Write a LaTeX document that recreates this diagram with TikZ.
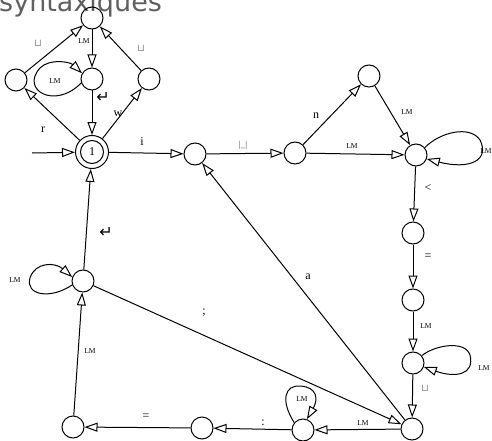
\documentclass[tikz,border=0pt]{standalone}
\usepackage{fontspec}
\setmainfont{Liberation Serif}
\newfontfamily\dejavu{DejaVu Sans}
\usetikzlibrary{arrows.meta}
\definecolor{titlegray}{RGB}{95,95,95}
\definecolor{spgray}{RGB}{140,140,140}
\begin{document}
\begin{tikzpicture}[x=1pt,y=-1pt,
 st/.style={circle,draw,line width=1pt,minimum size=22pt,inner sep=0pt},
 tr/.style={draw,line width=1pt,-{Triangle[open,length=13pt,width=9pt,line width=1pt]}},
 lm/.style={font=\fontsize{7.5}{8}\selectfont,inner sep=1pt},
 lt/.style={font=\fontsize{12}{12}\selectfont,inner sep=1pt},
 sp/.style={font=\dejavu\fontsize{10}{10}\selectfont,text=spgray,inner sep=1pt},
 ret/.style={font=\dejavu\fontsize{16}{16}\selectfont,inner sep=1pt}
]
\useasboundingbox (0,0) rectangle (492,441);
\node[text=titlegray, font=\dejavu\fontsize{27}{27}\selectfont, anchor=base west, inner sep=0pt] (title) at (-1,12) {syntaxiques};

% states
\node[st] (T) at (92,18) {};
\node[st] (L) at (16,80) {};
\node[st] (M) at (92,79) {};
\node[st] (R) at (149,79) {};
\node[circle,draw,line width=1pt,minimum size=33pt,inner sep=0pt] (S) at (92,152) {};
\node[circle,draw,line width=1pt,minimum size=23pt,inner sep=0pt,font=\fontsize{12}{12}\selectfont] (Si) at (92,152) {1};
\node[st] (A) at (195,154) {};
\node[st] (B) at (295,153) {};
\node[st] (C) at (369,76) {};
\node[st] (D) at (416,155) {};
\node[st] (E) at (413,233) {};
\node[st] (F) at (413,300) {};
\node[st] (G) at (413,363) {};
\node[st] (H) at (412,429) {};
\node[st] (I) at (303,430) {};
\node[st] (J) at (202,428) {};
\node[st] (K) at (73,427) {};
\node[st] (N) at (83,281) {};
\coordinate (start) at (32,153);

% edges
\draw[tr] (start) -- (S);
\draw[tr] (S) -- (L);
\draw[tr] (L) -- (T);
\draw[tr] (T) -- (M);
\draw[tr] (M.200) .. controls (55,110) and (20,90) .. (40,68) .. controls (50,58) and (70,62) .. (M.150);
\draw[tr] (M) -- (S);
\draw[tr] (S) -- (R);
\draw[tr] (R) -- (T);
\draw[tr] (S) -- (A);
\draw[tr] (A) -- (B);
\draw[tr] (B) -- (C);
\draw[tr] (C) -- (D);
\draw[tr] (B) -- (D);
\draw[tr] (D.40) .. controls (440,132) and (470,125) .. (480,140) .. controls (490,160) and (470,170) .. (D.-20);
\draw[tr] (D) -- (E);
\draw[tr] (E) -- (F);
\draw[tr] (F) -- (G);
\draw[tr] (G.40) .. controls (435,345) and (465,340) .. (470,355) .. controls (475,375) and (455,378) .. (G.-20);
\draw[tr] (G) -- (H);
\draw[tr] (H) -- (I);
\draw[tr] (I.140) .. controls (280,400) and (285,385) .. (300,386) .. controls (318,387) and (318,400) .. (I.70);
\draw[tr] (I) -- (J);
\draw[tr] (J) -- (K);
\draw[tr] (K) -- (N);
\draw[tr] (N.200) .. controls (50,300) and (25,295) .. (30,278) .. controls (35,262) and (55,262) .. (N.160);
\draw[tr] (N) -- (S);
\draw[tr] (N) -- (H);
\draw[tr] (H) -- (A);

% labels
\node[lt] (lr) at (43,130) {r};
\node[sp] (lLT) at (38,43) {⊔};
\node[lm] (lTM) at (84,41) {LM};
\node[lm] (lMM) at (55,81) {LM};
\node[ret] (lMS) at (103,97) {↵};
\node[lt] (lw) at (118,114) {w};
\node[sp] (lRT) at (141,48) {⊔};
\node[lt] (li) at (142,142) {i};
\node[font=\fontsize{9}{9}\selectfont,text=black!70,inner sep=1pt] (lAB) at (243,145) {|\_|};
\node[lt] (ln) at (316,116) {n};
\node[lm] (lCD) at (407,112) {LM};
\node[lm] (lBD) at (352,146) {LM};
\node[lm] (lDD) at (486,151) {LM};
\node[lt] (lDE) at (428,188) {<};
\node[lt] (lEF) at (428,257) {=};
\node[lm] (lFG) at (426,326) {LM};
\node[lm] (lGG) at (484,368) {LM};
\node[sp] (lGH) at (425,388) {⊔};
\node[lm] (lHI) at (363,423) {LM};
\node[lm] (lII) at (302,399) {LM};
\node[lt] (lIJ) at (263,423) {:};
\node[lt] (lJK) at (146,417) {=};
\node[lm] (lKN) at (90,351) {LM};
\node[lm] (lNN) at (15,280) {LM};
\node[ret] (lNS) at (106,232) {↵};
\node[lt] (lNH) at (204,313) {;};
\node[lt] (la) at (308,277) {a};
\end{tikzpicture}
\end{document}
